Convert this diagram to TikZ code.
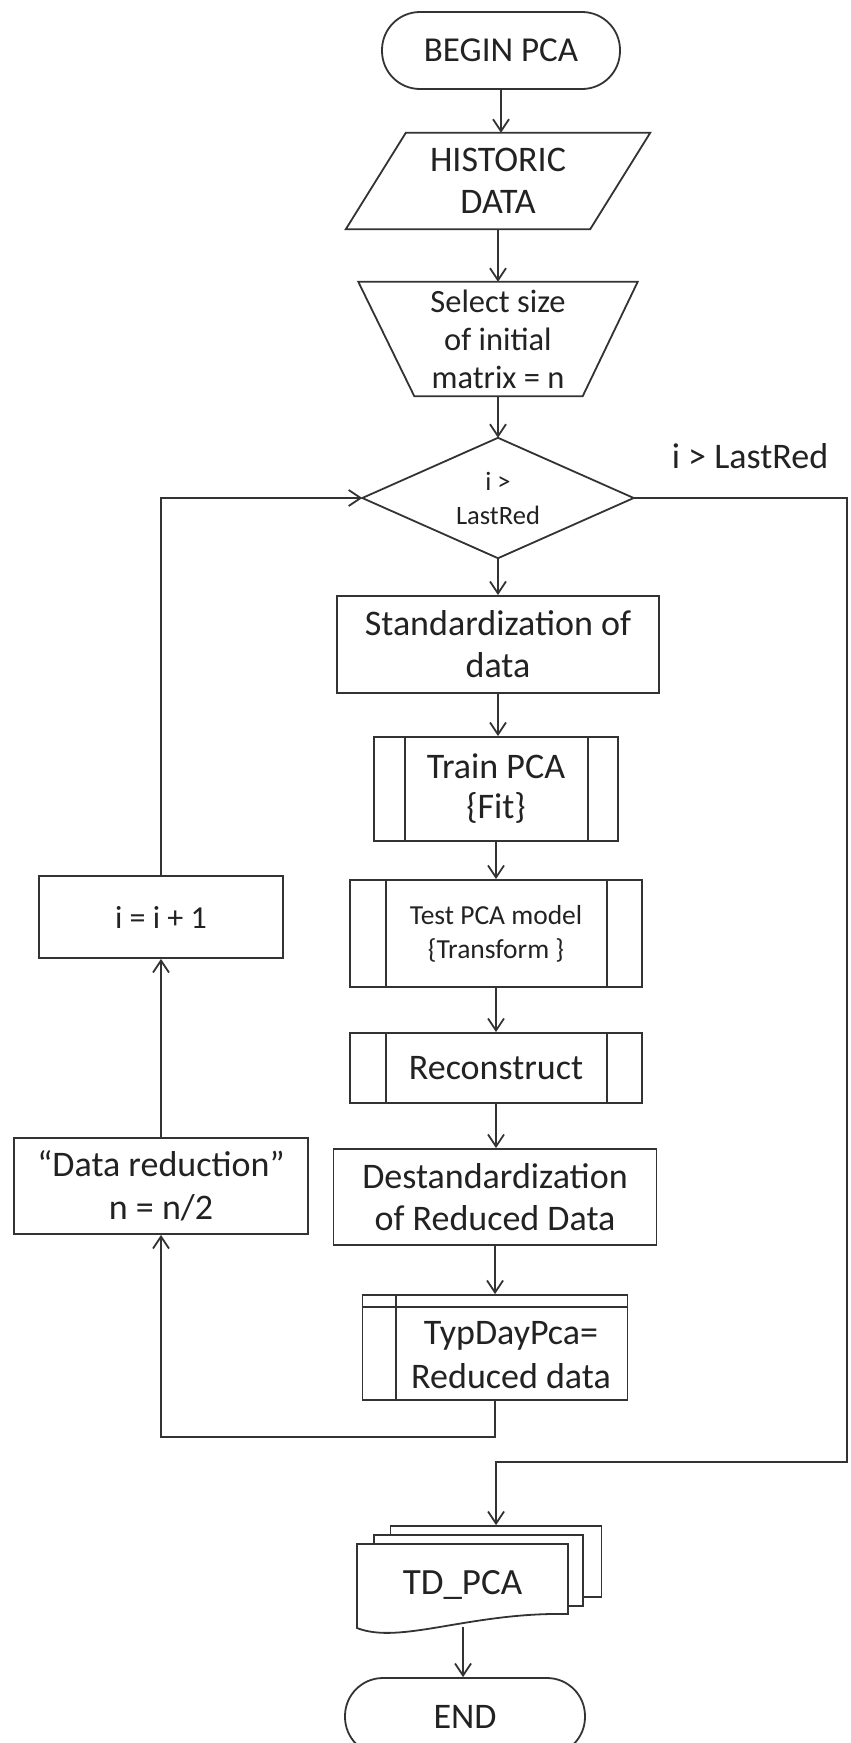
\documentclass[tikz,border=0pt]{standalone}
\usepackage{fontspec}
\setmainfont{Carlito}
\usetikzlibrary{arrows.meta,calc}
\definecolor{ink}{HTML}{333333}
\definecolor{txt}{HTML}{222222}
\newcommand\myfs[2]{\fontsize{#1}{#2}\selectfont}
\begin{document}
\begin{tikzpicture}[x=1pt,y=-1pt,
  box/.style={draw=ink, line width=1.8pt, fill=white, inner sep=0pt, align=center, text=txt},
  cont/.style={inner sep=0pt, align=center, text=txt},
  ln/.style={draw=ink, line width=1.8pt},
  arr/.style={draw=ink, line width=1.8pt, -{Straight Barb[length=12pt,width=16pt,line width=1.8pt]}}]
\useasboundingbox (0,0) rectangle (851,1743);
\fill[white] (0,0) rectangle (851,1743);
\clip (0,0) rectangle (851,1743);

% terminal
\node[box, rounded corners=38pt, minimum width=238pt, minimum height=77pt, font=\myfs{35}{40}] (begin) at (501,50.5) {BEGIN PCA};

% input data (parallelogram)
\node[cont, minimum width=304pt, minimum height=96pt, font=\myfs{36}{42}] (hist) at (498,181) {HISTORIC\\DATA};
\draw[ln] (hist.south west) -- ($(hist.south east)+(-60,0)$) -- (hist.north east) -- ($(hist.north west)+(60,0)$) -- cycle;

% manual operation (trapezoid)
\node[cont, minimum width=279pt, minimum height=114pt, font=\myfs{32.5}{38}] (sel) at (498,339) {Select size\\of initial\\matrix = n};
\draw[ln] (sel.north west) -- (sel.north east) -- ($(sel.south east)+(-55,0)$) -- ($(sel.south west)+(56,0)$) -- cycle;

% decision
\node[cont, minimum width=271pt, minimum height=120pt, font=\myfs{26.5}{34}] (dec) at (498,498) {i >\\LastRed};
\draw[ln] (dec.north) -- (dec.east) -- (dec.south) -- (dec.west) -- cycle;
\node[text=txt, font=\myfs{36}{40}, anchor=base, inner sep=0pt] (lbl) at (750,468) {i > LastRed};

% process chain
\node[box, minimum width=322pt, minimum height=97pt, font=\myfs{36}{42}] (std) at (498,644.5) {Standardization of\\data};

\node[box, minimum width=244pt, minimum height=104pt, font=\myfs{36}{40}] (train) at (496,789) {Train PCA\\\{Fit\}};
\draw[ln] ($(train.north west)+(32,0)$) -- ($(train.south west)+(32,0)$);
\draw[ln] ($(train.north east)+(-31,0)$) -- ($(train.south east)+(-31,0)$);

\node[box, minimum width=292pt, minimum height=107pt, font=\myfs{27.5}{34}] (test) at (496,933.5) {Test PCA model\\\{Transform \}};
\draw[ln] ($(test.north west)+(37,0)$) -- ($(test.south west)+(37,0)$);
\draw[ln] ($(test.north east)+(-36,0)$) -- ($(test.south east)+(-36,0)$);

\node[box, minimum width=292pt, minimum height=70pt, font=\myfs{36}{40}] (recon) at (496,1068) {Reconstruct};
\draw[ln] ($(recon.north west)+(37,0)$) -- ($(recon.south west)+(37,0)$);
\draw[ln] ($(recon.north east)+(-36,0)$) -- ($(recon.south east)+(-36,0)$);

\node[box, minimum width=323pt, minimum height=96pt, font=\myfs{36}{42}] (destd) at (495,1197) {Destandardization\\of Reduced Data};

\node[box, minimum width=265pt, minimum height=105pt] (typ) at (495,1347.5) {};
\draw[ln] ($(typ.north west)+(0,13)$) -- ($(typ.north east)+(0,13)$);
\draw[ln] ($(typ.north west)+(34,0)$) -- ($(typ.south west)+(34,0)$);
\node[cont, font=\myfs{36}{44}] (typtxt) at (511,1355) {TypDayPca=\\Reduced data};

% loop boxes
\node[box, minimum width=244pt, minimum height=82pt, font=\myfs{32}{40}] (inc) at (161,917) {i = i + 1};
\node[box, minimum width=294pt, minimum height=96pt, font=\myfs{36}{43}] (red) at (161,1186) {“Data reduction”\\n = n/2};

% multi-document
\node[box, minimum width=211pt, minimum height=71pt] (back) at (496,1561.5) {};
\node[box, minimum width=209pt, minimum height=71pt] (mid) at (478.5,1570.5) {};
\draw[ln, fill=white] (357,1544) -- (568,1544) -- (568,1614) .. controls (470,1612) and (400,1645) .. (357,1628) -- cycle;
\node[cont, font=\myfs{37}{40}] (doc) at (462.5,1585) {TD\_PCA};
\coordinate (docbot) at (463,1627);

% end terminal
\node[box, rounded corners=38pt, minimum width=240pt, minimum height=77pt, font=\myfs{36}{40}] (end) at (465,1716.5) {END};

% connectors
\coordinate (rc) at (847,1462);
\draw[arr] (begin.south) -- (begin.south |- hist.north);
\draw[arr] (hist.south) -- (sel.north);
\draw[arr] (sel.south) -- (dec.north);
\draw[arr] (dec.south) -- (std.north);
\draw[arr] (std.south) -- (std.south |- train.north);
\draw[arr] (train.south) -- (train.south |- test.north);
\draw[arr] (test.south) -- (recon.north);
\draw[arr] (recon.south) -- (recon.south |- destd.north);
\draw[arr] (destd.south) -- (typ.north);
\draw[arr] (typ.south) -- ++(0,36) -| (red.south);
\draw[arr] (red.north) -- (inc.south);
\draw[arr] (inc.north) |- (dec.west);
\draw[arr] (dec.east) -| (rc) -| (back.north);
\draw[arr] (docbot) -- (docbot |- end.north);
\end{tikzpicture}
\end{document}
